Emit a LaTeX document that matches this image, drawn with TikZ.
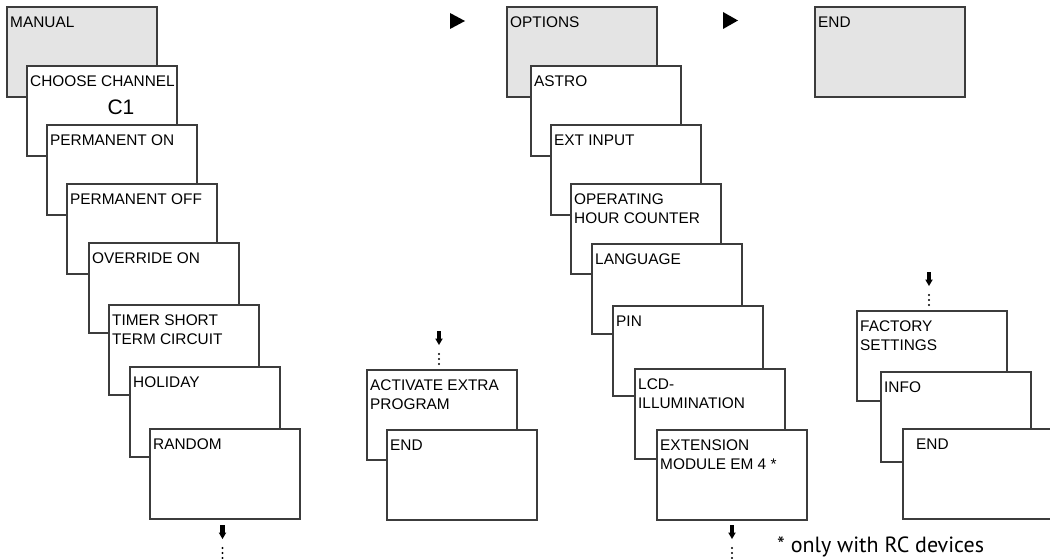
\documentclass[tikz,border=0pt]{standalone}
\usepackage{fontspec}
\setmainfont{Liberation Sans}
\newfontfamily\notefont{PT Sans}
\definecolor{edge}{HTML}{3C3C3C}
\definecolor{panel}{HTML}{E4E4E4}
\tikzset{
  box/.style={draw=edge, line width=1.1pt, fill=white, minimum width=150pt,
    minimum height=90pt, anchor=north west, inner sep=0pt, outer sep=0pt},
  graybox/.style={box, fill=panel},
  boxtext/.style={anchor=north west, inner sep=0pt, align=left,
    font=\fontsize{15.4}{19}\selectfont, text=black},
}
\newcommand\screenbox[5]{%
  \node[#4] (#1) at (#2,#3) {};
  \node[boxtext] (#1t) at ([xshift=3pt,yshift=-10pt]#1.north west) {#5};
}
\newcommand\downmark[3]{%
  \coordinate (#1) at (#2,#3);
  \fill[black] ([xshift=-2.1pt]#1) rectangle ([xshift=2.1pt,yshift=-8pt]#1);
  \fill[black] ([xshift=-3.8pt,yshift=-7.5pt]#1) -- ([xshift=3.8pt,yshift=-7.5pt]#1) -- ([yshift=-14pt]#1) -- cycle;
  \foreach \d in {23,28,33} \fill[black] ([yshift=-\d pt]#1) circle (1.2pt);
}
\begin{document}
\begin{tikzpicture}[x=1pt,y=-1pt]
\useasboundingbox (0,0) rectangle (1050,559);
\clip (0,0) rectangle (1050,559);
% left chain
\screenbox{man}{7}{7}{graybox}{MANUAL}
\screenbox{cc}{27}{66}{box}{CHOOSE CHANNEL}
\node[anchor=base, inner sep=0pt, font=\fontsize{21}{24}\selectfont] (c1) at ([xshift=94pt,yshift=-49pt]cc.north west) {C1};
\screenbox{pon}{47}{125}{box}{PERMANENT ON}
\screenbox{poff}{67}{184}{box}{PERMANENT OFF}
\screenbox{ovr}{89}{243}{box}{OVERRIDE ON}
\screenbox{tim}{109}{305}{box}{TIMER SHORT\\TERM CIRCUIT}
\screenbox{hol}{130}{367}{box}{HOLIDAY}
\screenbox{rnd}{150}{429}{box}{RANDOM}
% middle
\screenbox{act}{367}{370}{box}{ACTIVATE EXTRA\\PROGRAM}
\screenbox{aend}{387}{430}{box}{END}
% options chain
\screenbox{opt}{507}{7}{graybox}{OPTIONS}
\screenbox{ast}{531}{66}{box}{ASTRO}
\screenbox{ext}{551}{125}{box}{EXT INPUT}
\screenbox{ohc}{571}{184}{box}{OPERATING\\HOUR COUNTER}
\screenbox{lang}{592}{244}{box}{LANGUAGE}
\screenbox{pin}{613}{306}{box}{PIN}
\screenbox{lcd}{635}{369}{box}{LCD-\\ILLUMINATION}
\screenbox{em}{657}{430}{box}{EXTENSION\\MODULE EM 4 *}
% end column
\screenbox{tend}{815}{7}{graybox}{END}
\screenbox{fac}{857}{311}{box}{FACTORY\\SETTINGS}
\screenbox{info}{881}{372}{box}{INFO}
\node[box] (rend) at (903,429) {};
\node[boxtext] (rendt) at ([xshift=13pt,yshift=-10pt]rend.north west) {END};
% right triangles
\fill[black] (450,13) -- (465,21) -- (450,29) -- cycle;
\fill[black] (723,12) -- (738,20.5) -- (723,29) -- cycle;
% down marks
\downmark{d1}{222.5}{525}
\downmark{d2}{732}{525}
\downmark{d3}{439}{331}
\downmark{d4}{929}{272}
% footnote
\node[anchor=base west, inner sep=0pt, font=\notefont\fontsize{22}{25}\selectfont] (note) at (777,552.5) {* only with RC devices};
\end{tikzpicture}
\end{document}
